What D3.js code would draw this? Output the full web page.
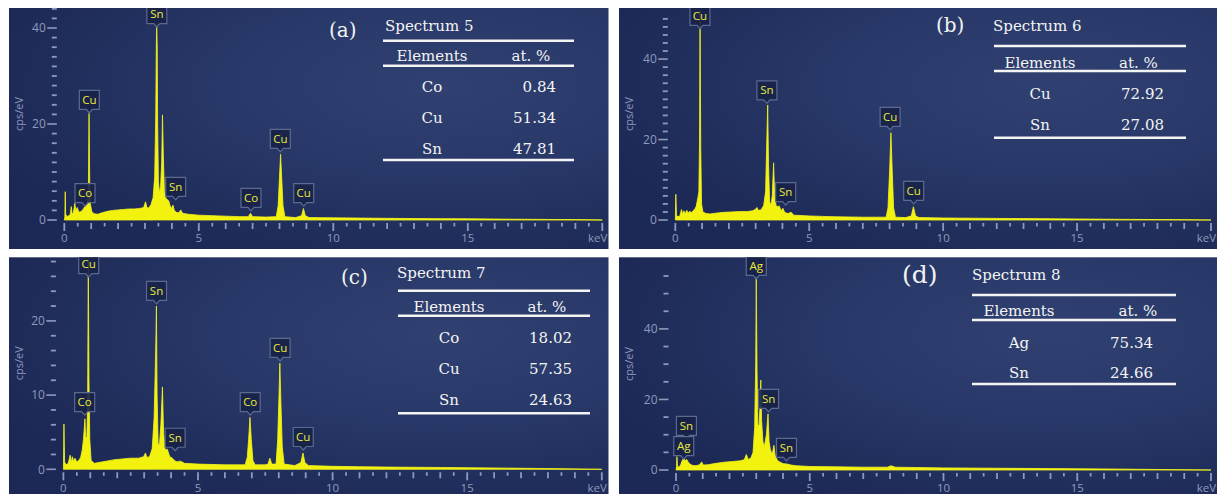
<!DOCTYPE html>
<html><head><meta charset="utf-8">
<script src="https://cdn.jsdelivr.net/npm/d3@7"></script>
<style>body{margin:0;background:#fff;} svg{display:block;}</style>
</head><body>
<svg id="chart" width="1217" height="494"></svg>
<script>
// ---------- DATA ----------
const specA = [[0,0],[0.02,0.6],[0.035,5.9],[0.05,1.2],[0.1,0.7],[0.16,0.9],[0.22,1.1],[0.26,2.8],[0.29,1.3],[0.34,1.6],[0.39,3.5],[0.43,2.0],[0.48,2.6],[0.53,1.8],[0.58,1.6],[0.64,1.9],[0.7,2.2],[0.75,2.7],[0.8,3.0],[0.86,3.3],[0.895,6.5],[0.92,22.2],[0.945,8],[0.975,3.2],[1.02,1.8],[1.1,1.3],[1.25,1.2],[1.4,1.5],[1.6,1.8],[1.8,2.0],[2.0,2.1],[2.2,2.2],[2.4,2.3],[2.6,2.3],[2.8,2.4],[2.95,2.6],[3.02,3.8],[3.07,2.6],[3.14,2.5],[3.22,3.2],[3.3,4.6],[3.36,9],[3.4,22],[3.42,36],[3.435,41],[3.455,36],[3.47,20],[3.5,8],[3.54,5.6],[3.58,7],[3.62,12],[3.65,21.9],[3.68,14],[3.72,6],[3.77,4.6],[3.83,4.2],[3.88,4.0],[3.93,3.0],[3.98,2.4],[4.04,3.1],[4.09,2.0],[4.17,1.6],[4.26,1.5],[4.33,2.1],[4.4,1.4],[4.6,1.2],[5.0,1.0],[5.5,0.9],[6.0,0.8],[6.5,0.7],[6.84,0.7],[6.92,1.4],[7.0,0.7],[7.5,0.6],[7.88,0.7],[7.95,3],[8.0,9],[8.04,13.7],[8.08,9],[8.13,3],[8.2,0.7],[8.6,0.5],[8.82,0.9],[8.89,2.4],[8.96,0.9],[9.1,0.5],[10,0.45],[11,0.4],[12,0.35],[13,0.3],[14,0.28],[15,0.25],[16,0.2],[17,0.15],[18,0.12],[19,0.08],[20,0]];
const specB = [[0,0],[0.02,6.4],[0.045,1.2],[0.1,0.8],[0.17,1.0],[0.23,2.6],[0.27,1.4],[0.32,2.3],[0.37,1.6],[0.43,2.4],[0.48,1.7],[0.54,2.2],[0.6,1.8],[0.66,2.3],[0.72,2.6],[0.78,3.4],[0.84,5.4],[0.88,7],[0.905,20],[0.925,52],[0.95,18],[0.98,4],[1.03,2.0],[1.15,1.6],[1.3,1.5],[1.5,1.7],[1.8,1.9],[2.1,2.0],[2.4,2.1],[2.7,2.1],[2.9,2.3],[2.98,2.6],[3.05,3.1],[3.1,2.4],[3.2,2.5],[3.3,3.6],[3.37,7],[3.41,18],[3.45,28.6],[3.48,14],[3.52,4.6],[3.57,3.6],[3.62,6],[3.67,14.2],[3.71,6],[3.76,3.6],[3.82,3.3],[3.88,3.5],[3.95,2.3],[4.02,2.9],[4.08,1.9],[4.2,1.6],[4.33,1.9],[4.42,1.2],[4.7,1.1],[5,1.0],[5.5,0.9],[6,0.8],[7,0.7],[7.87,0.7],[7.94,3],[8.0,12],[8.05,21.7],[8.1,12],[8.15,3],[8.22,0.7],[8.6,0.6],[8.81,1.0],[8.89,3.3],[8.97,1.0],[9.1,0.6],[10,0.5],[11,0.45],[12,0.4],[13,0.35],[14,0.3],[15,0.25],[16,0.2],[17,0.15],[18,0.12],[19,0.08],[20,0]];
const specC = [[0,0],[0.02,6.1],[0.045,1.0],[0.1,0.6],[0.18,0.8],[0.25,1.9],[0.29,0.9],[0.33,1.7],[0.38,1.1],[0.43,1.5],[0.5,1.0],[0.57,1.2],[0.64,1.6],[0.7,2.6],[0.75,4.2],[0.8,6.8],[0.83,4.4],[0.87,4.2],[0.9,9],[0.925,28],[0.95,12],[0.98,4],[1.03,1.2],[1.15,0.8],[1.3,0.9],[1.6,1.1],[1.9,1.3],[2.2,1.4],[2.5,1.5],[2.8,1.5],[2.98,1.7],[3.05,2.2],[3.1,1.6],[3.2,1.7],[3.3,2.8],[3.37,7],[3.41,13],[3.44,18.3],[3.455,22],[3.48,10],[3.52,3.3],[3.57,3.4],[3.62,6],[3.68,11.1],[3.72,5],[3.78,2.6],[3.86,2.7],[3.95,1.7],[4.05,1.5],[4.12,1.2],[4.22,1.0],[4.35,1.1],[4.5,0.8],[5,0.7],[6,0.6],[6.75,0.6],[6.83,1.6],[6.88,4],[6.93,7.0],[6.98,4],[7.04,1.2],[7.12,0.6],[7.5,0.6],[7.6,0.7],[7.67,1.5],[7.74,0.7],[7.9,0.7],[7.96,4],[8.01,10],[8.04,14.3],[8.08,9],[8.13,3],[8.2,0.7],[8.6,0.5],[8.82,0.9],[8.9,2.2],[8.97,0.9],[9.1,0.5],[10,0.4],[11,0.35],[12,0.3],[14,0.25],[16,0.18],[18,0.1],[20,0]];
const specD = [[0,0],[0.02,1],[0.035,3.8],[0.06,1.0],[0.12,0.8],[0.18,1.6],[0.24,2.8],[0.3,3.3],[0.35,2.6],[0.4,3.0],[0.46,2.2],[0.54,1.6],[0.62,1.3],[0.75,1.2],[0.88,1.5],[0.96,2.3],[1.02,1.4],[1.2,1.5],[1.5,1.9],[1.8,2.2],[2.1,2.4],[2.4,2.6],[2.55,2.9],[2.63,4.4],[2.7,3.0],[2.8,3.4],[2.88,5],[2.94,12],[2.98,30],[3.0,55],[3.03,28],[3.06,13],[3.1,12.2],[3.14,18],[3.17,25.5],[3.2,14],[3.25,8],[3.3,6.6],[3.38,10],[3.44,15.9],[3.48,8],[3.53,5.7],[3.6,4.5],[3.66,7],[3.71,4],[3.8,2.6],[3.9,2.2],[4.0,1.8],[4.15,1.7],[4.3,1.4],[4.5,1.2],[5,1.0],[6,0.9],[7,0.8],[7.9,0.8],[8.04,1.2],[8.2,0.8],[9,0.7],[10,0.6],[12,0.5],[14,0.4],[16,0.3],[18,0.15],[20,0]];

const tagsA = [{el:"Sn",e:3.44,c:40.2},{el:"Cu",e:0.93,c:22.3},{el:"Co",e:0.77,c:2.9},{el:"Sn",e:4.14,c:4.2},{el:"Co",e:6.94,c:1.9},{el:"Cu",e:8.03,c:14.2},{el:"Cu",e:8.9,c:2.9}];
const tagsB = [{el:"Cu",e:0.92,c:47.5},{el:"Sn",e:3.42,c:29},{el:"Sn",e:4.12,c:3.7},{el:"Cu",e:8.02,c:22.4},{el:"Cu",e:8.9,c:4}];
const tagsC = [{el:"Cu",e:0.94,c:25.9},{el:"Co",e:0.79,c:7.3},{el:"Sn",e:3.46,c:22.3},{el:"Sn",e:4.15,c:2.5},{el:"Co",e:6.94,c:7.3},{el:"Cu",e:8.05,c:14.6},{el:"Cu",e:8.91,c:2.6}];
const tagsD = [{el:"Ag",e:3.0,c:54.2},{el:"Sn",e:0.39,c:8.8},{el:"Ag",e:0.29,c:3.1},{el:"Sn",e:3.46,c:16.5},{el:"Sn",e:4.13,c:2.6}];

const elementsA = ["Co","Cu","Sn"], atA = ["0.84","51.34","47.81"];
const elementsB = ["Cu","Sn"], atB = ["72.92","27.08"];
const elementsC = ["Co","Cu","Sn"], atC = ["18.02","57.35","24.63"];
const elementsD = ["Ag","Sn"], atD = ["75.34","24.66"];
const titles = ["Spectrum 5","Spectrum 6","Spectrum 7","Spectrum 8"];
const panelLabels = ["(a)","(b)","(c)","(d)"];
const xTickLabels = [0,5,10,15];
const yLabA = [0,20,40], yLabB = [0,20,40], yLabC = [0,10,20], yLabD = [0,20,40];

// ---------- LAYOUT ----------
const panels = [
 {spec:specA, tags:tagsA, els:elementsA, ats:atA, title:titles[0], label:panelLabels[0], yLab:yLabA, yStep:2, yMinMax:44,
  rect:[9,8,599.5,241], x0:64.3, x20:602.3, yZero:220, yTop:8, yMax:44.17,
  lab:{x:329,y:37,fs:20}, tb:{tx:385,ty:30.5,l1:40.7,x1:383,x2:574,hy:61,ec:432,ac:531,l2:65.7,rows:[92,123,154],vr:556,l3:160}},
 {spec:specB, tags:tagsB, els:elementsB, ats:atB, title:titles[1], label:panelLabels[1], yLab:yLabB, yStep:2, yMinMax:50,
  rect:[619,8,598,241], x0:675.3, x20:1211, yZero:220, yTop:8, yMax:52.7,
  lab:{x:936,y:32,fs:20}, tb:{tx:993,ty:31,l1:46,x1:994,x2:1186,hy:68,ec:1040,ac:1138.5,l2:71,rows:[99,130],vr:1164,l3:137.7}},
 {spec:specC, tags:tagsC, els:elementsC, ats:atC, title:titles[2], label:panelLabels[2], yLab:yLabC, yStep:2, yMinMax:28,
  rect:[9,257.3,599.5,240], x0:63.4, x20:601.8, yZero:469.3, yTop:257.3, yMax:28.57,
  lab:{x:341,y:284,fs:20}, tb:{tx:397,ty:278,l1:290.7,x1:398,x2:590,hy:311.7,ec:449,ac:547,l2:315.7,rows:[343,374,405],vr:572,l3:413.3}},
 {spec:specD, tags:tagsD, els:elementsD, ats:atD, title:titles[3], label:panelLabels[3], yLab:yLabD, yStep:5, yMinMax:55,
  rect:[619,257.3,598,240], x0:676, x20:1211, yZero:470, yTop:257.3, yMax:60.3,
  lab:{x:902,y:283,fs:25}, tb:{tx:972,ty:280,l1:295,x1:972,x2:1176,hy:316,ec:1019,ac:1138,l2:320,rows:[348,378],vr:1153,l3:384}}
];

const svg = d3.select("#chart");
const defs = svg.append("defs");
const grad = defs.append("radialGradient").attr("id","bg").attr("cx",0.72).attr("cy",0.32).attr("r",0.8);
grad.append("stop").attr("offset",0).attr("stop-color","#304171");
grad.append("stop").attr("offset",0.45).attr("stop-color","#283868");
grad.append("stop").attr("offset",1).attr("stop-color","#1c2855");

const AX = "#8e9abd";
const sans = "'Open Sans','Noto Sans',sans-serif";
const serif = "'DejaVu Serif','Liberation Serif',serif";

panels.forEach((p,i) => {
  const g = svg.append("g");
  const [rx,ry,rw,rh] = p.rect;
  g.append("rect").attr("x",rx).attr("y",ry).attr("width",rw).attr("height",rh).attr("fill","url(#bg)");
  defs.append("clipPath").attr("id","clip"+i).append("rect").attr("x",rx).attr("y",ry).attr("width",rw).attr("height",rh);

  const x = d3.scaleLinear().domain([0,20]).range([p.x0,p.x20]);
  const y = d3.scaleLinear().domain([0,p.yMax]).range([p.yZero,p.yTop]);

  // y axis ticks
  const axX = p.x0 - 7.5;
  const minor = d3.range(0,p.yMinMax+0.001,p.yStep).filter(v => !p.yLab.includes(v));
  g.selectAll(".ym").data(minor).join("line")
    .attr("x1",axX-5).attr("x2",axX).attr("y1",d=>y(d)).attr("y2",d=>y(d))
    .attr("stroke",AX).attr("stroke-width",1.8);
  g.selectAll(".yM").data(p.yLab).join("line")
    .attr("x1",axX-9.5).attr("x2",axX).attr("y1",d=>y(d)).attr("y2",d=>y(d))
    .attr("stroke",AX).attr("stroke-width",1.6);
  g.selectAll(".yl").data(p.yLab).join("text")
    .attr("x",axX-11).attr("y",d=>y(d)).attr("dy","0.35em").attr("text-anchor","end")
    .attr("font-family",sans).attr("font-size",12).attr("fill",AX).text(d=>d);
  g.append("text").attr("transform",`translate(${rx+10.5},${p.yZero-106}) rotate(-90)`)
    .attr("text-anchor","middle").attr("dy","0.35em").attr("font-family",sans).attr("font-size",11)
    .attr("fill",AX).text("cps/eV");

  // x axis ticks
  const xt = d3.range(0,20.001,0.5);
  g.selectAll(".xt").data(xt).join("line")
    .attr("x1",d=>x(d)).attr("x2",d=>x(d)).attr("y1",p.yZero+3)
    .attr("y2",d=> p.yZero+3 + (d%5===0 ? 8 : (d%1===0 ? 6 : 3.5)))
    .attr("stroke",AX).attr("stroke-width",1.8);
  g.selectAll(".xl").data(xTickLabels).join("text")
    .attr("x",d=>x(d)).attr("y",p.yZero+22.3).attr("text-anchor","middle")
    .attr("font-family",sans).attr("font-size",11.5).attr("fill",AX).text(d=>d);
  g.append("text").attr("x",x(20)+5).attr("y",p.yZero+22.3).attr("text-anchor","end")
    .attr("font-family",sans).attr("font-size",11.5).attr("fill",AX).text("keV");

  // spectrum
  const area = d3.area().x(d=>x(d[0])).y0(y(0)).y1(d=>y(d[1]));
  g.append("path").datum(p.spec).attr("d",area).attr("clip-path",`url(#clip${i})`)
    .attr("fill","#f2f20e").attr("stroke","#f5f520").attr("stroke-width",0.8);

  // tags
  const tg = g.selectAll(".tag").data(p.tags).join("g").attr("clip-path",`url(#clip${i})`);
  tg.append("path").attr("d", d => {
    const tx = x(d.e), ty = y(d.c), b = ty-3.5, t = b-19, l = tx-10, r = tx+10;
    return `M${l},${t}H${r}V${b}H${tx+3}L${tx},${ty}L${tx-3},${b}H${l}Z`;
  }).attr("fill","rgba(24,34,72,0.9)").attr("stroke","#5c6a92").attr("stroke-width",1.2);
  tg.append("text").attr("x",d=>x(d.e)).attr("y",d=>y(d.c)-13).attr("dy","0.35em")
    .attr("text-anchor","middle").attr("font-family",sans).attr("font-size",11.5)
    .attr("fill","#e9ea3c").text(d=>d.el);

  // panel label
  g.append("text").attr("x",p.lab.x).attr("y",p.lab.y).attr("font-family",serif)
    .attr("font-size",p.lab.fs).attr("fill","#f2f2f2").text(p.label);

  // table
  const t = p.tb;
  const tt = (xx,yy,txt,anchor) => g.append("text").attr("x",xx).attr("y",yy).attr("text-anchor",anchor)
    .attr("font-family",serif).attr("font-size",15).attr("fill","#f4f4f4").text(txt);
  tt(t.tx,t.ty,p.title,"start");
  [t.l1,t.l2,t.l3].forEach(ly => g.append("line").attr("x1",t.x1).attr("x2",t.x2).attr("y1",ly).attr("y2",ly)
    .attr("stroke","#f4f4f4").attr("stroke-width",2.4));
  tt(t.ec,t.hy,"Elements","middle");
  tt(t.ac,t.hy,"at. %","middle");
  p.els.forEach((el,k) => {
    tt(t.ec,t.rows[k],el,"middle");
    tt(t.vr,t.rows[k],p.ats[k],"end");
  });
});
</script>
</body></html>
